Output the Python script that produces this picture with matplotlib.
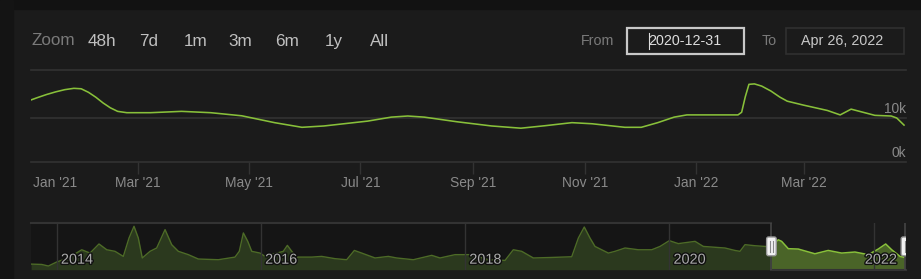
import matplotlib
matplotlib.use('Agg')
import matplotlib.pyplot as plt
import matplotlib.dates as mdates
import matplotlib.patheffects as pe
from matplotlib.patches import Rectangle, FancyBboxPatch
from matplotlib.transforms import IdentityTransform
import numpy as np
import pandas as pd

# daily players, selected range
main_dates = ['2021-01-01', '2021-01-05', '2021-01-10', '2021-01-15', '2021-01-20',
              '2021-01-25', '2021-01-29', '2021-02-02', '2021-02-06', '2021-02-10',
              '2021-02-14', '2021-02-18', '2021-02-23', '2021-03-08', '2021-03-25',
              '2021-04-10', '2021-04-27', '2021-05-15', '2021-05-30', '2021-06-11',
              '2021-07-05', '2021-07-18', '2021-07-27', '2021-08-05', '2021-08-23',
              '2021-09-11', '2021-09-27', '2021-10-10', '2021-10-25', '2021-11-05',
              '2021-11-23', '2021-12-02', '2021-12-11', '2021-12-20', '2021-12-27',
              '2022-01-24', '2022-01-26', '2022-01-28', '2022-01-30', '2022-02-02',
              '2022-02-06', '2022-02-11', '2022-02-16', '2022-02-20', '2022-03-01',
              '2022-03-14', '2022-03-21', '2022-03-27', '2022-04-09', '2022-04-18',
              '2022-04-21', '2022-04-25']
main_players = [14000, 14600, 15300, 15900, 16400,
                16700, 16600, 15800, 14700, 13400,
                12300, 11500, 11200, 11200, 11500,
                11200, 10500, 8950, 7900, 8200,
                9300, 10200, 10450, 10200, 9150,
                8200, 7700, 8250, 8950, 8700,
                7900, 7900, 8950, 10200, 10700,
                10700, 11300, 14800, 17600, 17700,
                17200, 16100, 14700, 13800, 12900,
                11700, 10700, 12000, 10600, 10450,
                10000, 8400]
y_ticks = [0, 10000]

# navigator, full history (decimal years)
nav_years = [2013.748, 2013.853, 2013.918, 2014.0, 2014.114, 2014.245, 2014.326, 2014.414,
             2014.490, 2014.571, 2014.652, 2014.708, 2014.757, 2014.799, 2014.838, 2014.914,
             2014.979, 2015.061, 2015.126, 2015.191, 2015.289, 2015.387, 2015.583, 2015.746,
             2015.788, 2015.828, 2015.871, 2015.910, 2015.991, 2016.040, 2016.219, 2016.259,
             2016.302, 2016.351, 2016.498, 2016.595, 2016.726, 2016.840, 2016.915, 2016.987,
             2017.118, 2017.248, 2017.330, 2017.493, 2017.673, 2017.754, 2017.901, 2018.065,
             2018.227, 2018.391, 2018.472, 2018.554, 2018.668, 2018.848, 2019.044, 2019.109,
             2019.167, 2019.223, 2019.272, 2019.403, 2019.468, 2019.566, 2019.696, 2019.828,
             2019.909, 2020.0, 2020.088, 2020.252, 2020.333, 2020.545, 2020.643, 2020.692,
             2020.741, 2020.839, 2020.937, 2021.0, 2021.067, 2021.100, 2021.165, 2021.263,
             2021.426, 2021.556, 2021.688, 2021.818, 2021.948, 2022.046, 2022.119, 2022.178,
             2022.259, 2022.301]
nav_players = [3200, 3000, 2100, 4400, 6700, 11400, 9500, 14700, 11400, 10500,
               7600, 18100, 24800, 18100, 6700, 10500, 12400, 22900, 14300, 10500,
               8600, 6100, 5700, 7200, 10500, 21000, 16200, 10500, 9500, 7600,
               10500, 13900, 10500, 7200, 7200, 7600, 6300, 5700, 11000, 9500,
               6700, 7600, 6700, 5700, 8200, 6700, 8600, 8600, 5700, 5300,
               11400, 10500, 6700, 7000, 7400, 18100, 24400, 18100, 13300, 9500,
               10500, 12400, 11400, 11400, 13300, 16600, 14900, 16200, 13300, 12400,
               11000, 10500, 14300, 13700, 13300, 13300, 17100, 16200, 12000, 11800,
               9100, 11000, 9500, 10100, 8600, 11800, 14700, 11400, 7600, 7000]
nav_year_ticks = [2014, 2016, 2018, 2020, 2022]
sel_start = 2021.0

zoom_buttons = ['48h', '7d', '1m', '3m', '6m', '1y', 'All']
from_text = '2020-12-31'
to_text = 'Apr 26, 2022'

W, H = 921, 279
BG = '#1b1b1b'
GRID = '#333333'
LINE = '#88c03a'
plt.rcParams['font.family'] = ['Liberation Sans', 'DejaVu Sans']


def fx(x):
    return x / W


def fy(y):
    return 1 - y / H


fig = plt.figure(figsize=(W / 100, H / 100), dpi=100, facecolor=BG)
fig.patches.append(Rectangle((0, fy(9)), 1, 9 / H, transform=fig.transFigure, color='#121212'))
fig.patches.append(Rectangle((0, 0), 13 / W, 1, transform=fig.transFigure, color='#141414'))

# range selector row
fig.text(fx(31), fy(41), 'Zoom', color='#7a7a7a', fontsize=12.3, va='center')
for lab, x in zip(zoom_buttons, [87.3, 138.7, 183.3, 228.7, 274.7, 325, 369.7]):
    fig.text(fx(x), fy(41.5), lab, color='#c0c0c0', fontsize=12.3, va='center')
fig.text(fx(580.7), fy(41), 'From', color='#7a7a7a', fontsize=10.3, va='center')
fig.text(fx(761.7), fy(41), 'To', color='#7a7a7a', fontsize=10.3, va='center')
fig.patches.append(Rectangle((626.7, H - 54), 117.6, 26.3, transform=IdentityTransform(),
                             fc=BG, ec='#c8c8c8', lw=1.6))
fig.patches.append(Rectangle((786, H - 54.3), 118.3, 26.6, transform=IdentityTransform(),
                             fc=BG, ec='#303030', lw=1.2))
fig.text(fx(685), fy(41), from_text, color='#dddddd', fontsize=10.3, va='center', ha='center')
fig.text(fx(842.5), fy(41), to_text, color='#c8c8c8', fontsize=10.3, va='center', ha='center')
fig.lines.append(plt.Line2D([648.5, 648.5], [H - 49.3, H - 32.7], transform=IdentityTransform(),
                            color='#dddddd', lw=0.8))

# main chart
ax = fig.add_axes([fx(31), fy(162.3), fx(906) - fx(31), (162.3 - 70.3) / H])
ax.set_facecolor('none')
dates = pd.to_datetime(main_dates)
ax.plot(dates, main_players, color=LINE, lw=1.15, solid_joinstyle='round', zorder=3)
ax.set_xlim(pd.Timestamp('2021-01-01 12:00'), pd.Timestamp('2022-04-26 02:00'))
ax.set_ylim(0, 20770)
for s in ['left', 'right', 'bottom']:
    ax.spines[s].set_visible(False)
ax.spines['top'].set_color(GRID)
ax.spines['top'].set_linewidth(1.2)
ax.set_yticks([])
for v in y_ticks:
    ax.axhline(v, color=GRID, lw=1.2, zorder=1, clip_on=False)
    ax.annotate(f'{v // 1000}k', xy=(1, v), xycoords=('axes fraction', 'data'),
                xytext=(0, 6.4), textcoords='offset points', ha='right', va='center',
                color='#8a8a8a', fontsize=9.9)
ax.set_xticks(pd.date_range('2021-03-01', '2022-03-01', freq='2MS'))
ax.xaxis.set_major_formatter(mdates.DateFormatter("%b '%y"))
ax.tick_params(axis='x', length=8.4, width=1, color=GRID, labelcolor='#8a8a8a',
               labelsize=9.9, pad=1.5)
ax.annotate("Jan '21", xy=(0, 0), xycoords='axes fraction', xytext=(1.2, -15),
            textcoords='offset points', ha='left', va='center', color='#8a8a8a', fontsize=9.9)

# navigator
nav = fig.add_axes([fx(31), fy(269.7), fx(906) - fx(31), 47 / H])
nav.set_facecolor('none')
xmin, xmax = 2013.748, 2022.318
nav.set_xlim(xmin, xmax)
nav.set_ylim(0, 26860)
for s in nav.spines.values():
    s.set_visible(False)
nav.set_xticks([])
nav.set_yticks([])
ny = np.array(nav_years)
npl = np.array(nav_players)
old = ny <= sel_start
new = ny >= sel_start
nav.axvspan(xmin, sel_start, color='#151515', zorder=0)
nav.fill_between(ny[old], npl[old], color='#2b391e', lw=0, zorder=1)
nav.plot(ny[old], npl[old], color='#4d6b27', lw=1, zorder=2)
nav.fill_between(ny[new], npl[new], color='#4a6428', lw=0, zorder=1)
nav.plot(ny[new], npl[new], color=LINE, lw=1.1, zorder=2)
for yr in nav_year_ticks:
    nav.axvline(yr, color=GRID, lw=1, zorder=2.5)
nav.plot([xmin, sel_start], [26860, 26860], color=GRID, lw=1.5, clip_on=False, zorder=3)
nav.plot([sel_start, xmax], [0, 0], color=GRID, lw=1.5, clip_on=False, zorder=3)
nav.axvline(sel_start, color='#444444', lw=1.2, zorder=3)
nav.axvline(xmax - 0.01, color='#444444', lw=1.2, zorder=3)
shadow = [pe.withStroke(linewidth=2, foreground='#101010')]
for yr in nav_year_ticks[:-1]:
    nav.annotate(str(yr), xy=(yr, 0), xytext=(3, 7.2), textcoords='offset points',
                 color='#ababab', fontsize=10.4, ha='left', va='center', path_effects=shadow)
nav.annotate(str(nav_year_ticks[-1]), xy=(1, 0), xycoords='axes fraction', xytext=(-6.7, 7.2),
             textcoords='offset points', color='#ababab', fontsize=10.4, ha='right',
             va='center', path_effects=shadow)

# selection handles
for hx in [sel_start, xmax]:
    xd = nav.transData.transform((hx, 0))[0]
    h = FancyBboxPatch((xd - 4.8, H - 255.7), 9.6, 18.7, boxstyle='round,pad=0,rounding_size=2',
                       transform=IdentityTransform(), fc='#f2f2f2', ec='#9a9a9a', lw=1, zorder=5)
    h.set_clip_box(nav.bbox)
    fig.patches.append(h)
    for dx in (-1.5, 1.5):
        g = plt.Line2D([xd + dx, xd + dx], [H - 252, H - 241], transform=IdentityTransform(),
                       color='#8a8a8a', lw=0.8, zorder=6)
        g.set_clip_box(nav.bbox)
        fig.lines.append(g)

fig.savefig('out.png', dpi=100, facecolor=BG)
